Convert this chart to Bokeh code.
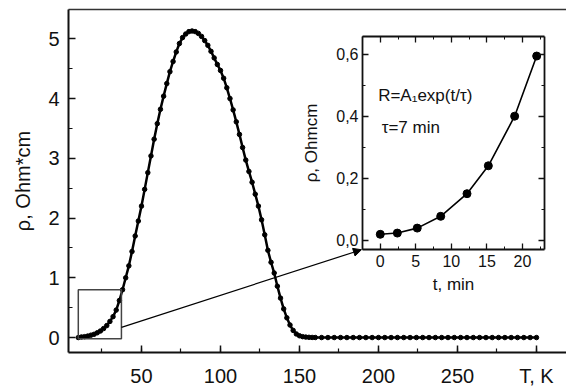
from bokeh.plotting import figure
from bokeh.layouts import column
from bokeh.models import (SingleIntervalTicker, FixedTicker, LinearAxis, BoxAnnotation,
                          Arrow, NormalHead, Label, CustomJSTickFormatter, Range1d, GridBox)
from bokeh.embed import file_html
from bokeh.resources import INLINE

# ---------------- data ----------------
T_main = [10, 12, 14, 16, 18, 20, 22, 24, 26, 28, 30, 32, 34, 36, 38, 40, 42, 44, 46, 48,
          50, 52, 54, 56, 58, 60, 62, 64, 66, 68, 70, 72, 74, 76, 78, 80, 82, 84, 86, 88,
          90, 92, 94, 96, 98, 100, 102, 104, 106, 108, 110, 112, 114, 116, 118, 120, 122, 124, 126, 128,
          130, 132, 134, 136, 138, 140, 142, 144, 146, 148, 150, 152, 154, 156, 158, 160,
          164, 168, 172, 176, 180, 184, 188, 192, 196, 200, 204, 208, 212, 216, 220, 224, 228, 232,
          236, 240, 244, 248, 252, 256, 260, 264, 268, 272, 276, 280, 284, 288, 292, 296, 300]
rho_main = [0.00, 0.01, 0.015, 0.025, 0.04, 0.055, 0.08, 0.11, 0.15, 0.20, 0.27, 0.35, 0.46, 0.62, 0.80, 1.00, 1.20, 1.44, 1.70, 1.95,
            2.20, 2.48, 2.76, 3.04, 3.32, 3.58, 3.82, 4.04, 4.25, 4.45, 4.62, 4.78, 4.92, 5.02, 5.08, 5.12, 5.13, 5.12, 5.09, 5.04,
            4.97, 4.89, 4.79, 4.68, 4.57, 4.47, 4.34, 4.18, 4.00, 3.81, 3.61, 3.40, 3.18, 2.97, 2.78, 2.60, 2.40, 2.20, 1.97, 1.72,
            1.46, 1.26, 1.08, 0.86, 0.66, 0.48, 0.33, 0.21, 0.12, 0.06, 0.03, 0.015, 0.008, 0.004, 0.002, 0.001,
            0.0, 0.0, 0.0, 0.0, 0.0, 0.0, 0.0, 0.0, 0.0, 0.0, 0.0, 0.0, 0.0, 0.0, 0.0, 0.0, 0.0, 0.0,
            0.0, 0.0, 0.0, 0.0, 0.0, 0.0, 0.0, 0.0, 0.0, 0.0, 0.0, 0.0, 0.0, 0.0, 0.0, 0.0, 0.0]

t_inset = [0, 2.4, 5.2, 8.5, 12.2, 15.2, 18.9, 22.0]
rho_inset = [0.019, 0.023, 0.039, 0.077, 0.15, 0.24, 0.40, 0.594]

x_tick_labels = {300: "T, K"}
FONT = "Liberation Sans"
INK = "#111111"

# ---------------- main figure ----------------
p = figure(width=566, height=390, x_range=Range1d(3.8, 319), y_range=Range1d(-0.25, 5.49),
           output_backend="svg", toolbar_location=None,
           min_border_left=68, min_border_right=0, min_border_top=9, min_border_bottom=38,
           background_fill_color="white", border_fill_color="white", outline_line_color=None)
p.grid.visible = False

xa = p.xaxis[0]
xa.ticker = SingleIntervalTicker(interval=50, num_minor_ticks=2)
xa.major_label_overrides = x_tick_labels
xa.axis_label = None
ya = p.yaxis[0]
ya.ticker = SingleIntervalTicker(interval=1, num_minor_ticks=2)
ya.axis_label = "ρ, Ohm*cm"

for ax in (xa, ya):
    ax.major_tick_in = 7
    ax.major_tick_out = 0
    ax.minor_tick_in = 4
    ax.minor_tick_out = 0
    ax.axis_line_width = 2
    ax.axis_line_color = INK
    ax.major_tick_line_width = 1.5
    ax.major_tick_line_color = INK
    ax.minor_tick_line_color = INK
    ax.minor_tick_line_width = 1.2
    ax.major_label_text_font = FONT
    ax.major_label_text_font_size = "20px"
    ax.major_label_text_color = INK
    ax.axis_label_text_font = FONT
    ax.axis_label_text_font_size = "20px"
    ax.axis_label_text_font_style = "normal"
    ax.axis_label_text_color = INK
xa.major_label_standoff = 12
ya.major_label_standoff = 9
ya.axis_label_standoff = 11

top_ax = LinearAxis(ticker=FixedTicker(ticks=[]), axis_line_width=1.5, axis_line_color="#333333",
                    major_label_text_font_size="0px", major_tick_out=0, minor_tick_out=0,
                    major_tick_in=0, minor_tick_in=0, major_label_standoff=0, axis_label=None)
p.add_layout(top_ax, "above")

p.line(T_main, rho_main, line_color="black", line_width=2.5)
p.scatter(T_main, rho_main, size=4.5, color="black")

p.add_layout(BoxAnnotation(left=10, right=37.3, bottom=-0.02, top=0.8,
                           fill_alpha=0, line_color="#444444", line_alpha=1, line_width=1.5))
p.add_layout(Arrow(end=NormalHead(size=8, fill_color="black", line_color="black"),
                   x_start=37.3, y_start=0.17, x_end=189.2, y_end=1.47,
                   line_color="black", line_width=1.2))

# ---------------- inset ----------------
p2 = figure(width=263, height=290, x_range=Range1d(-2.5, 23.1), y_range=Range1d(-0.03, 0.657),
            output_backend="svg", toolbar_location=None,
            min_border_left=66, min_border_right=15, min_border_top=16, min_border_bottom=61,
            background_fill_alpha=0, border_fill_alpha=0, outline_line_color=None,
            x_axis_label="t, min", y_axis_label="ρ, Ohmcm")
p2.grid.visible = False

xt = [0, 5, 10, 15, 20]
xm = [-2.5, 2.5, 7.5, 12.5, 17.5, 22.5]
yt = [0.0, 0.2, 0.4, 0.6]
ym = [0.1, 0.3, 0.5]
comma_fmt = CustomJSTickFormatter(code="return tick.toFixed(1).replace('.', ',');")

p2.xaxis[0].ticker = FixedTicker(ticks=xt, minor_ticks=xm)
p2.yaxis[0].ticker = FixedTicker(ticks=yt, minor_ticks=ym)
p2.yaxis[0].formatter = comma_fmt
mirror_top = LinearAxis(ticker=FixedTicker(ticks=xt, minor_ticks=xm), axis_label=None,
                        formatter=CustomJSTickFormatter(code="return '';"))
mirror_right = LinearAxis(ticker=FixedTicker(ticks=yt, minor_ticks=ym), axis_label=None,
                          formatter=CustomJSTickFormatter(code="return '';"))
p2.add_layout(mirror_top, "above")
p2.add_layout(mirror_right, "right")

for ax in p2.axis:
    ax.major_tick_in = 6
    ax.major_tick_out = 0
    ax.minor_tick_in = 3
    ax.minor_tick_out = 0
    ax.axis_line_width = 1.8
    ax.axis_line_color = INK
    ax.major_tick_line_width = 1.3
    ax.major_tick_line_color = INK
    ax.minor_tick_line_color = INK
    ax.major_label_text_font = FONT
    ax.major_label_text_font_size = "16px"
    ax.major_label_text_color = INK
    ax.axis_label_text_font = FONT
    ax.axis_label_text_font_size = "17px"
    ax.axis_label_text_font_style = "normal"
    ax.axis_label_text_color = INK
for ax in (mirror_top, mirror_right):
    ax.major_label_text_font_size = "0px"
    ax.major_label_standoff = 0
p2.xaxis[0].major_label_standoff = 5
p2.xaxis[0].axis_label_standoff = 12
p2.yaxis[0].major_label_standoff = 4
p2.yaxis[0].axis_label_standoff = 12

p2.line(t_inset, rho_inset, line_color="black", line_width=1.6)
p2.scatter(t_inset, rho_inset, size=8, color="black")

p2.add_layout(Label(x=-0.3, y=0.467, text="R=A₁exp(t/τ)", text_baseline="middle",
                    text_font=FONT, text_font_size="17px", text_color=INK))
p2.add_layout(Label(x=0.2, y=0.364, text="τ=7 min", text_baseline="middle",
                    text_font=FONT, text_font_size="17px", text_color=INK))

inset_box = column(p2)
inset_box.margin = (20, 0, 0, 296)

layout = GridBox(children=[(p, 0, 0), (inset_box, 0, 0)])

open("out.html", "w").write(file_html(layout, INLINE))
